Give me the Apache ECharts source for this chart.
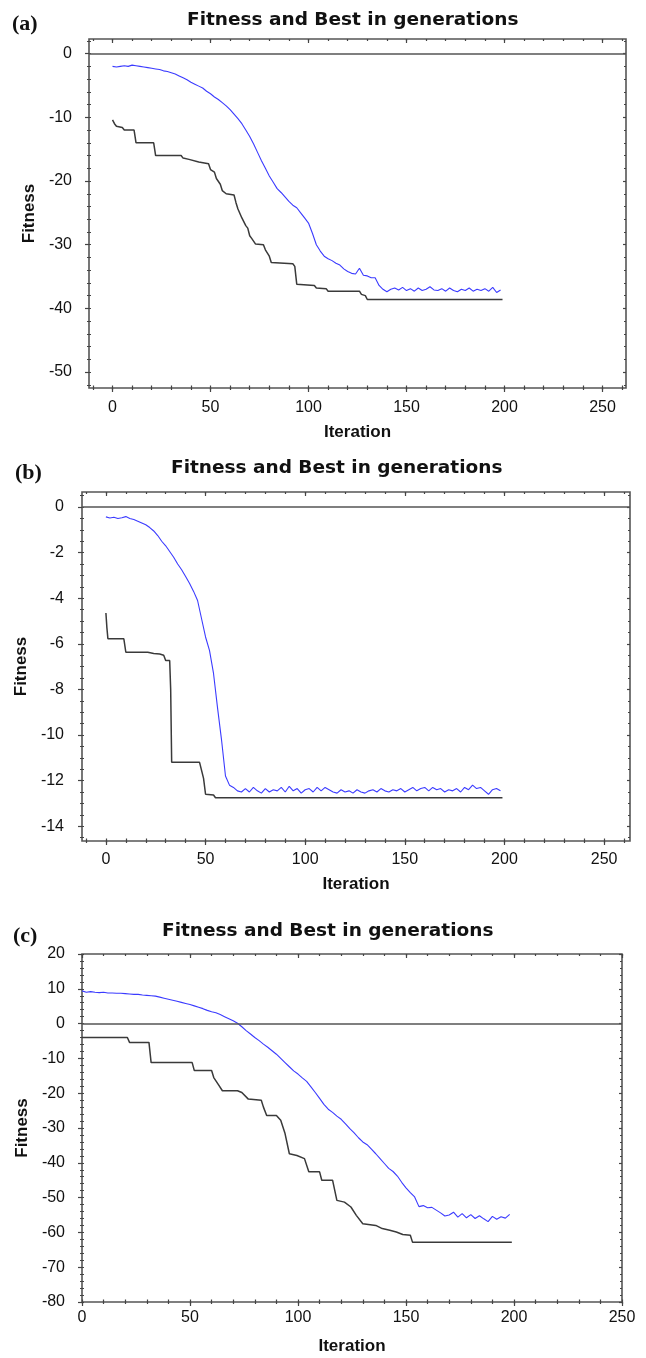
<!DOCTYPE html>
<html>
<head>
<meta charset="utf-8">
<script src="https://cdn.jsdelivr.net/npm/echarts@6/dist/echarts.min.js"></script>
<style>
html,body{margin:0;padding:0;background:#fff;}
#chart{width:646px;height:1358px;}
</style>
</head>
<body>
<div id="chart"></div>
<script>
// ---------- DATA ----------
const panelLabels = ['(a)', '(b)', '(c)'];
const titleText = 'Fitness and Best in generations';
const xName = 'Iteration';
const yName = 'Fitness';

// fitness (blue) values, sampled every 2 iterations (0,2,...,198)
const fitStep = 2;
const fitA = [
-2.0,-2.1,-2.0,-1.9,-2.0,-1.8,-1.9,-2.0,-2.1,-2.2,
-2.3,-2.4,-2.5,-2.7,-2.8,-3.0,-3.2,-3.5,-3.8,-4.1,
-4.5,-4.8,-5.1,-5.4,-5.9,-6.3,-6.8,-7.2,-7.7,-8.2,
-8.8,-9.5,-10.2,-11.0,-12.0,-13.0,-14.2,-15.5,-16.8,-18.0,
-19.2,-20.2,-21.2,-21.8,-22.5,-23.2,-23.8,-24.2,-25.0,-25.8,
-26.6,-28.2,-30.0,-31.0,-31.8,-32.2,-32.5,-32.9,-33.2,-33.8,
-34.2,-34.5,-34.6,-33.7,-34.8,-34.9,-35.2,-35.2,-36.4,-37.0,
-37.4,-37.0,-36.8,-37.1,-36.7,-37.2,-36.9,-37.3,-36.8,-37.2,
-37.0,-36.6,-37.1,-37.2,-36.9,-37.3,-36.8,-37.2,-37.4,-37.0,
-37.2,-36.8,-37.3,-37.0,-37.2,-36.9,-37.3,-36.7,-37.5,-37.1
];
const fitB = [
-0.43,-0.48,-0.45,-0.50,-0.47,-0.42,-0.50,-0.55,-0.62,-0.70,
-0.78,-0.90,-1.05,-1.25,-1.50,-1.70,-1.95,-2.20,-2.50,-2.75,
-3.05,-3.35,-3.70,-4.10,-4.90,-5.70,-6.30,-7.30,-8.80,-10.2,
-11.8,-12.2,-12.3,-12.45,-12.5,-12.35,-12.5,-12.3,-12.45,-12.55,
-12.35,-12.5,-12.4,-12.45,-12.3,-12.5,-12.25,-12.45,-12.35,-12.55,
-12.4,-12.35,-12.5,-12.3,-12.45,-12.3,-12.4,-12.5,-12.55,-12.4,
-12.5,-12.45,-12.55,-12.4,-12.5,-12.55,-12.45,-12.4,-12.5,-12.35,
-12.45,-12.5,-12.4,-12.45,-12.35,-12.5,-12.4,-12.3,-12.45,-12.35,
-12.3,-12.45,-12.3,-12.4,-12.35,-12.5,-12.4,-12.45,-12.35,-12.5,
-12.3,-12.4,-12.2,-12.35,-12.3,-12.45,-12.6,-12.4,-12.35,-12.45
];
const fitC = [
9.4,9.0,9.2,9.0,8.9,9.0,8.8,8.8,8.7,8.7,
8.6,8.5,8.4,8.4,8.2,8.1,8.0,7.9,7.6,7.3,
7.0,6.7,6.4,6.1,5.8,5.5,5.1,4.7,4.3,3.8,
3.4,3.1,2.6,2.0,1.4,0.8,0.1,-0.9,-2.0,-3.0,
-4.0,-4.9,-5.9,-6.8,-7.8,-8.8,-10.0,-11.2,-12.4,-13.6,
-14.5,-15.6,-16.6,-18.2,-19.8,-21.5,-23.2,-24.6,-25.5,-26.6,
-27.5,-28.8,-30.2,-31.4,-32.8,-34.0,-34.8,-36.1,-37.4,-38.8,
-40.2,-41.6,-42.5,-43.8,-45.6,-47.2,-48.6,-49.8,-52.6,-52.3,
-52.9,-52.8,-53.6,-54.4,-55.3,-55.0,-54.2,-55.6,-54.6,-55.8,
-54.9,-56.0,-55.2,-56.1,-56.9,-55.4,-56.2,-55.5,-55.9,-54.8
];

// best (black) values at the iterations where they change
const bestAx = [0,1,2,5,6,11,12,21,22,35,36,39,40,44,45,49,50,52,53,55,56,58,62,63,64,66,68,69,70,71,73,77,78,80,81,92,93,94,103,104,109,110,126,127,129,130,199];
const bestAy = [-10.4,-11.0,-11.4,-11.6,-12.0,-12.0,-14.0,-14.0,-16.0,-16.0,-16.4,-16.6,-16.9,-17.0,-17.3,-17.3,-18.2,-18.6,-19.6,-20.5,-21.5,-22.0,-22.2,-23.4,-24.4,-25.8,-27.0,-27.4,-28.6,-29.0,-29.9,-30.0,-30.8,-31.8,-32.8,-33.0,-33.4,-36.2,-36.4,-36.8,-36.9,-37.3,-37.3,-37.8,-38.0,-38.6,-38.6];
const bestBx = [0,0.5,1,9,10,21,24,27,29,30,32,32.5,33,47,48,49,50,54,55,199];
const bestBy = [-4.65,-5.3,-5.78,-5.78,-6.37,-6.37,-6.42,-6.45,-6.5,-6.73,-6.73,-8.0,-11.2,-11.2,-11.55,-11.9,-12.6,-12.63,-12.75,-12.75];
const bestCx = [0,21,22,31,32,51,52,60,61,63,65,72,74,77,83,84,85.5,90,92,94,96,99.5,103,105,110,111,116,118,121.5,124.5,127,130,136,139,142.5,145.5,148.5,152,153,199];
const bestCy = [-4.0,-4.0,-5.4,-5.4,-11.2,-11.2,-13.5,-13.5,-15.5,-17.4,-19.3,-19.3,-19.8,-21.7,-22.0,-24.0,-26.4,-26.4,-27.8,-31.6,-37.4,-37.9,-38.8,-42.6,-42.6,-45.0,-45.0,-50.8,-51.3,-52.7,-55.1,-57.5,-58.0,-58.9,-59.4,-59.9,-60.6,-60.8,-62.8,-62.8];

// tick values
const xMajorTicks = [0,50,100,150,200,250];
const xMinorTicksAB = [-10,0,10,20,30,40,50,60,70,80,90,100,110,120,130,140,150,160,170,180,190,200,210,220,230,240,250,260];
const xMinorTicksC = [0,10,20,30,40,50,60,70,80,90,100,110,120,130,140,150,160,170,180,190,200,210,220,230,240,250];
const yMajorA = [0,-10,-20,-30,-40,-50];
const yMinorA = [2,0,-2,-4,-6,-8,-10,-12,-14,-16,-18,-20,-22,-24,-26,-28,-30,-32,-34,-36,-38,-40,-42,-44,-46,-48,-50,-52];
const yMajorB = [0,-2,-4,-6,-8,-10,-12,-14];
const yMinorB = [0.5,0,-0.5,-1,-1.5,-2,-2.5,-3,-3.5,-4,-4.5,-5,-5.5,-6,-6.5,-7,-7.5,-8,-8.5,-9,-9.5,-10,-10.5,-11,-11.5,-12,-12.5,-13,-13.5,-14,-14.5];
const yMajorC = [20,10,0,-10,-20,-30,-40,-50,-60,-70,-80];
const yMinorC = [20,18,16,14,12,10,8,6,4,2,0,-2,-4,-6,-8,-10,-12,-14,-16,-18,-20,-22,-24,-26,-28,-30,-32,-34,-36,-38,-40,-42,-44,-46,-48,-50,-52,-54,-56,-58,-60,-62,-64,-66,-68,-70,-72,-74,-76,-78,-80];

// ---------- LAYOUT ----------
const panels = [
  {grid:{left:89, top:39, width:537, height:349}, xr:[-12,262], yr:[-52.5,2.3],
   xMaj:xMajorTicks, xMin:xMinorTicksAB, yMaj:yMajorA, yMin:yMinorA,
   fit:fitA, bx:bestAx, by:bestAy, xLblMargin:12, yLblMargin:17, xNameGap:36, yNameGap:50,
   title:{left:187, top:11}, tag:{left:12, top:13}},
  {grid:{left:82, top:492, width:548, height:349}, xr:[-12,263], yr:[-14.65,0.66],
   xMaj:xMajorTicks, xMin:xMinorTicksAB, yMaj:yMajorB, yMin:yMinorB,
   fit:fitB, bx:bestBx, by:bestBy, xLblMargin:11, yLblMargin:18, xNameGap:35, yNameGap:48,
   title:{left:171, top:459}, tag:{left:15, top:462}},
  {grid:{left:82, top:954, width:540, height:348}, xr:[0,250], yr:[-80,20],
   xMaj:xMajorTicks, xMin:xMinorTicksC, yMaj:yMajorC, yMin:yMinorC,
   fit:fitC, bx:bestCx, by:bestCy, xLblMargin:8, yLblMargin:17, xNameGap:36, yNameGap:50,
   title:{left:162, top:922}, tag:{left:13, top:925}}
];

const tickColor = '#444';
const labelFont = "'Liberation Sans Narrow','Liberation Sans',Arial,sans-serif";
const nameFont = "'Liberation Sans',Arial,sans-serif";

function baseAxis(g, pos, r) {
  return {type:'value', gridIndex:g, position:pos, min:r[0], max:r[1],
    axisLine:{show:false, onZero:false}, splitLine:{show:false},
    axisLabel:{show:false}, axisPointer:{show:false}};
}
function tickAxis(g, pos, r, vals, inside, len) {
  const a = baseAxis(g, pos, r);
  a.axisTick = {show:true, inside:inside, length:len, customValues:vals, lineStyle:{color:tickColor, width:1.2}};
  return a;
}

const xAxes = [], yAxes = [], grids = [], series = [], titles = [];
panels.forEach((p, g) => {
  grids.push(Object.assign({show:true, borderColor:'#555', borderWidth:1.6, backgroundColor:'#fff'}, p.grid));
  // x axes
  const xm = tickAxis(g, 'bottom', p.xr, p.xMaj, false, 4);
  xm.axisLabel = {show:true, customValues:p.xMaj, margin:p.xLblMargin, fontSize:16, color:'#111', fontFamily:labelFont};
  xm.name = xName; xm.nameLocation = 'middle'; xm.nameGap = p.xNameGap;
  xm.nameTextStyle = {fontSize:17, fontWeight:'bold', color:'#111', fontFamily:nameFont};
  xAxes.push(xm,
    tickAxis(g, 'bottom', p.xr, p.xMin, false, 2),
    tickAxis(g, 'bottom', p.xr, p.xMin, true, 2.5),
    tickAxis(g, 'top', p.xr, p.xMin, true, 2),
    tickAxis(g, 'top', p.xr, p.xMaj, true, 4));
  // y axes
  const ym = tickAxis(g, 'left', p.yr, p.yMaj, false, 4);
  ym.axisLabel = {show:true, customValues:p.yMaj, margin:p.yLblMargin, fontSize:16, color:'#111', fontFamily:labelFont};
  ym.name = yName; ym.nameLocation = 'middle'; ym.nameGap = p.yNameGap;
  ym.nameTextStyle = {fontSize:17, fontWeight:'bold', color:'#111', fontFamily:nameFont};
  yAxes.push(ym,
    tickAxis(g, 'left', p.yr, p.yMin, false, 2),
    tickAxis(g, 'left', p.yr, p.yMin, true, 2),
    tickAxis(g, 'right', p.yr, p.yMin, true, 2),
    tickAxis(g, 'right', p.yr, p.yMaj, true, 3));

  series.push({
    type:'line', xAxisIndex:g*5, yAxisIndex:g*5, showSymbol:false, symbol:'none',
    data:p.bx.map((x, i) => [x, p.by[i]]),
    lineStyle:{color:'#3a3a3a', width:1.5}, z:3,
    markLine:{silent:true, symbol:'none', label:{show:false},
      lineStyle:{color:'#555', width:1.6, type:'solid'}, data:[{yAxis:0}]}
  });
  series.push({
    type:'line', xAxisIndex:g*5, yAxisIndex:g*5, showSymbol:false, symbol:'none',
    data:p.fit.map((v, i) => [i*fitStep, v]),
    lineStyle:{color:'#3b3bff', width:1.1}, z:4
  });

  titles.push({text:titleText, left:p.title.left, top:p.title.top, padding:0,
    textStyle:{fontSize:18.5, fontWeight:'bold', color:'#111', fontFamily:"'DejaVu Sans',Verdana,sans-serif"}});
  titles.push({text:panelLabels[g], left:p.tag.left, top:p.tag.top, padding:0,
    textStyle:{fontSize:22, fontWeight:'bold', color:'#111', fontFamily:"'Liberation Serif','Times New Roman',serif"}});
});

const chart = echarts.init(document.getElementById('chart'), null, {renderer:'canvas'});
chart.setOption({
  animation:false,
  backgroundColor:'#fff',
  title:titles,
  grid:grids,
  xAxis:xAxes,
  yAxis:yAxes,
  series:series
});
</script>
</body>
</html>
